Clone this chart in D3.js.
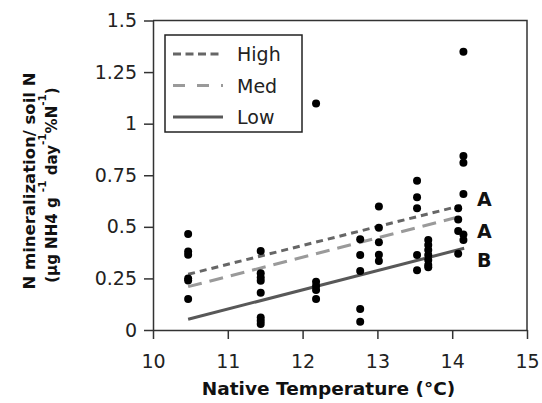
<!DOCTYPE html>
<html>
<head>
<meta charset="utf-8">
<script src="https://cdn.jsdelivr.net/npm/d3@7"></script>
<style>
  body { margin: 0; background: #fff; }
  svg { font-family: 'DejaVu Sans', sans-serif; }
  .axis path, .axis line { stroke: #333; stroke-width: 1.5; }
  .axis text { font-size: 19px; fill: #222; font-family: 'DejaVu Sans', sans-serif; }
</style>
</head>
<body>
<svg width="542" height="403"></svg>
<script>
  // sites (native temperature) and the measured values at each
  const siteTemps = [10.47, 11.44, 12.18, 12.77, 13.02, 13.53, 13.68, 14.08, 14.15];
  const siteValues = [
    [0.465, 0.38, 0.365, 0.25, 0.24, 0.15],
    [0.383, 0.275, 0.255, 0.239, 0.181, 0.061, 0.045, 0.029],
    [1.098, 0.234, 0.213, 0.194, 0.15],
    [0.44, 0.363, 0.286, 0.102, 0.04],
    [0.598, 0.496, 0.425, 0.365, 0.335],
    [0.723, 0.643, 0.59, 0.363, 0.29],
    [0.436, 0.412, 0.388, 0.363, 0.339, 0.315, 0.304],
    [0.59, 0.535, 0.48, 0.37],
    [1.348, 0.843, 0.81, 0.659, 0.463, 0.436]
  ];

  // fitted lines: [x0, x1], [y0, y1]
  const seriesNames = ["High", "Med", "Low"];
  const fitX = [[10.47, 14.12], [10.47, 14.16], [10.47, 14.16]];
  const fitY = [[0.27, 0.603], [0.21, 0.555], [0.052, 0.396]];

  const groupLetters = ["A", "A", "B"];
  const letterValues = [0.6, 0.445, 0.305];

  const xTicks = [10, 11, 12, 13, 14, 15];
  const yTicks = [0, 0.25, 0.5, 0.75, 1, 1.25, 1.5];

  const lineStyles = {
    High: { color: "#666", dash: "7,5", legendDash: "8,4.5" },
    Med: { color: "#9a9a9a", dash: "14,8", legendDash: "12,12" },
    Low: { color: "#585858", dash: null, legendDash: null }
  };

  const svg = d3.select("svg");
  const plotLeft = 153, plotRight = 527, plotTop = 20.5, plotBottom = 330;

  const x = d3.scaleLinear().domain([10, 15]).range([plotLeft, plotRight]);
  const y = d3.scaleLinear().domain([0, 1.5]).range([plotBottom, plotTop]);

  // frame (top and right)
  svg.append("path")
    .attr("d", `M${plotLeft},${plotTop}H${plotRight}V${plotBottom}`)
    .attr("fill", "none")
    .attr("stroke", "#333")
    .attr("stroke-width", 1.5);

  svg.append("g")
    .attr("class", "axis")
    .attr("transform", `translate(0,${plotBottom})`)
    .call(d3.axisBottom(x).tickValues(xTicks).tickSize(9).tickSizeOuter(0).tickPadding(16)
      .tickFormat(d3.format("d")));

  svg.append("g")
    .attr("class", "axis")
    .attr("transform", `translate(${plotLeft},0)`)
    .call(d3.axisLeft(y).tickValues(yTicks).tickSize(9).tickSizeOuter(0).tickPadding(7)
      .tickFormat(d3.format("")));

  // fit lines
  seriesNames.forEach((name, i) => {
    const st = lineStyles[name];
    svg.append("line")
      .attr("x1", x(fitX[i][0])).attr("x2", x(fitX[i][1]))
      .attr("y1", y(fitY[i][0])).attr("y2", y(fitY[i][1]))
      .attr("stroke", st.color)
      .attr("stroke-width", 3)
      .attr("stroke-dasharray", st.dash);
  });

  // points
  const points = siteTemps.flatMap((t, i) => siteValues[i].map(v => ({ t, v })));
  svg.append("g")
    .selectAll("circle")
    .data(points)
    .join("circle")
    .attr("cx", d => x(d.t))
    .attr("cy", d => y(d.v))
    .attr("r", 4)
    .attr("fill", "#000");

  // group letters
  svg.append("g")
    .selectAll("text")
    .data(groupLetters)
    .join("text")
    .attr("x", x(14.33))
    .attr("y", (d, i) => y(letterValues[i]))
    .attr("font-size", 19)
    .attr("font-weight", "bold")
    .attr("fill", "#111")
    .text(d => d);

  // legend
  const legend = svg.append("g");
  legend.append("rect")
    .attr("x", 165).attr("y", 35)
    .attr("width", 137).attr("height", 97)
    .attr("fill", "#fff")
    .attr("stroke", "#222")
    .attr("stroke-width", 1.5);
  seriesNames.forEach((name, i) => {
    const st = lineStyles[name];
    const ly = 54 + i * 31.5;
    legend.append("line")
      .attr("x1", 173).attr("x2", 223)
      .attr("y1", ly).attr("y2", ly)
      .attr("stroke", st.color)
      .attr("stroke-width", 3)
      .attr("stroke-dasharray", st.legendDash);
    legend.append("text")
      .attr("x", 237).attr("y", ly + 7)
      .attr("font-size", 19)
      .attr("fill", "#222")
      .text(name);
  });

  // axis titles
  svg.append("text")
    .attr("x", 328.5)
    .attr("y", 395)
    .attr("text-anchor", "middle")
    .attr("font-size", 18.5)
    .attr("font-weight", "bold")
    .attr("fill", "#111")
    .text("Native Temperature (°C)");

  const yTitle = svg.append("g")
    .attr("transform", "translate(35,181) rotate(-90)");
  yTitle.append("text")
    .attr("text-anchor", "middle")
    .attr("font-size", 16.5)
    .attr("font-weight", "bold")
    .attr("fill", "#111")
    .text("N mineralization/ soil N");
  const t2 = yTitle.append("text")
    .attr("y", 22)
    .attr("x", -4)
    .attr("text-anchor", "middle")
    .attr("font-size", 15)
    .attr("font-weight", "bold")
    .attr("fill", "#111");
  t2.append("tspan").text("(µg NH4 g ");
  t2.append("tspan").attr("dy", -11).attr("font-size", 10.5).text("-1");
  t2.append("tspan").attr("dy", 11).text(" day");
  t2.append("tspan").attr("dy", -11).attr("font-size", 10.5).text("-1");
  t2.append("tspan").attr("dy", 11).text("%N");
  t2.append("tspan").attr("dy", -11).attr("font-size", 10.5).text("-1");
  t2.append("tspan").attr("dy", 11).text(")");
</script>
</body>
</html>
